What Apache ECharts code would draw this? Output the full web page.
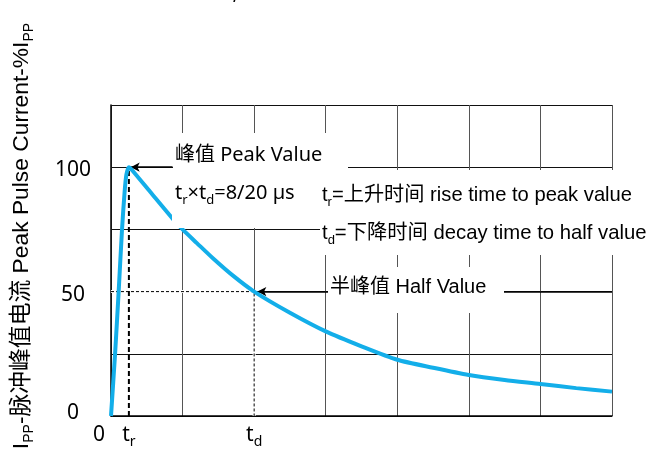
<!DOCTYPE html>
<html>
<head>
<meta charset="utf-8">
<script src="https://cdn.jsdelivr.net/npm/echarts@6/dist/echarts.min.js"></script>
<style>
  html, body { margin: 0; padding: 0; background: #fff; }
  #chart { width: 662px; height: 454px; }
</style>
</head>
<body>
<div id="chart"></div>
<script>
// 8/20 µs surge current waveform (time axis is schematic, one column = 10 units)
const timeUs = [0, 0.57, 1.07, 1.54, 1.9, 2.15, 2.5, 2.9, 5.5, 8.7, 10, 12, 14.2, 17, 20, 25, 30, 35, 40, 45, 50, 55, 60, 65, 70];
const currentPct = [0, 25, 50, 75, 90, 97, 100, 99, 90, 79, 75, 69.5, 63.5, 56.5, 50, 41.5, 34, 28, 22.6, 19.4, 16.5, 14.5, 12.9, 11.2, 9.8];

// characteristic points
const tr = 2.5;      // rise time to peak
const td = 20;       // decay time to half value
const peak = 100;
const half = 50;

// axis labels
const yTickLabels = [0, 50, 100];
const xLabelValues = [0, tr, td];
const xLabelTexts = ['0', 't|r', 't|d'];

const LATIN = "'Liberation Sans', 'Noto Sans CJK SC', sans-serif";
const FRUT = "'Noto Sans', 'Noto Sans CJK SC', sans-serif";

// rich styles for text with subscripts (zrender style names)
function richZr(family, size, subSize) {
  return {
    n: { fontFamily: family, fontSize: size, fill: '#000', verticalAlign: 'bottom', padding: [0, 0, 3, 0] },
    s: { fontFamily: family, fontSize: subSize, fill: '#000', verticalAlign: 'bottom' }
  };
}

const chart = echarts.init(document.getElementById('chart'), null, { renderer: 'canvas' });

const curve = timeUs.map((t, i) => [t, currentPct[i]]);

const option = {
  animation: false,
  backgroundColor: '#fff',
  grid: { left: 111, top: 105, right: 50, bottom: 38 },
  xAxis: {
    type: 'value',
    min: 0, max: 70, interval: 10,
    axisLine: { show: true, onZero: false, lineStyle: { color: '#000', width: 1.5 } },
    axisTick: { show: false },
    splitLine: { show: true, lineStyle: { color: '#555', width: 1 } },
    axisLabel: {
      show: true,
      customValues: xLabelValues,
      margin: 9,
      formatter: function (v) {
        const i = xLabelValues.indexOf(v);
        const s = xLabelTexts[i];
        if (s === '0') return '{z|0}';
        const parts = s.split('|');
        return '{n|' + parts[0] + '}{s|' + parts[1] + '}';
      },
      rich: {
        z: { fontFamily: FRUT, fontSize: 21, color: '#000', padding: [0, 24, 0, 0], verticalAlign: 'bottom' },
        n: { fontFamily: FRUT, fontSize: 21, color: '#000', verticalAlign: 'bottom', padding: [0, 0, 3, 0] },
        s: { fontFamily: FRUT, fontSize: 14, color: '#000', verticalAlign: 'bottom' }
      }
    }
  },
  yAxis: {
    type: 'value',
    min: 0, max: 125, interval: 25,
    axisLine: { show: true, lineStyle: { color: '#000', width: 1.5 } },
    axisTick: { show: false },
    splitLine: { show: true, lineStyle: { color: '#111', width: 1 } },
    axisLabel: {
      margin: 38,
      align: 'center',
      formatter: function (v) {
        if (!yTickLabels.includes(v)) return '';
        return v === 0 ? '{lo|' + v + '}' : '{hi|' + v + '}';
      },
      rich: {
        hi: { fontFamily: FRUT, fontSize: 21, color: '#000', padding: [6, 0, 0, 0] },
        lo: { fontFamily: FRUT, fontSize: 21, color: '#000', padding: [0, 0, 6, 0] }
      }
    }
  },
  series: [
    {
      name: 'halfCover',
      type: 'line',
      data: [[0, half], [td, half], [td, 0]],
      symbol: 'none',
      lineStyle: { color: '#fff', width: 3 },
      z: 3,
      silent: true
    },
    {
      name: 'halfGuide',
      type: 'line',
      data: [[0, half], [td, half], [td, 0]],
      symbol: 'none',
      lineStyle: { color: '#000', width: 1, type: [3, 2] },
      z: 3,
      silent: true,
      markLine: {
        silent: true,
        symbol: ['none', 'arrow'],
        symbolSize: [7, 9],
        label: { show: false },
        lineStyle: { color: '#000', width: 1.5, type: 'solid' },
        data: [
          [{ coord: [8.6, peak] }, { coord: [tr + 0.25, peak] }],
          [{ coord: [70, half] }, { coord: [td + 0.45, half] }]
        ]
      }
    },
    {
      name: 'riseGuide',
      type: 'line',
      data: [[tr, 0], [tr, peak]],
      symbol: 'none',
      lineStyle: { color: '#000', width: 2, type: [5, 3] },
      z: 3,
      silent: true
    },
    {
      name: 'current',
      type: 'line',
      data: curve,
      showSymbol: false,
      symbol: 'none',
      smooth: 0.25,
      lineStyle: { color: '#13aee9', width: 4 },
      z: 5
    }
  ],
  graphic: [
    // white panels behind the annotation texts
    { type: 'rect', z: 10, silent: true, shape: { x: 173, y: 133, width: 175, height: 44 }, style: { fill: '#fff' } },
    { type: 'rect', z: 10, silent: true, shape: { x: 172, y: 177, width: 128, height: 51 }, style: { fill: '#fff' } },
    { type: 'rect', z: 10, silent: true, shape: { x: 320, y: 170, width: 342, height: 85 }, style: { fill: '#fff' } },
    { type: 'rect', z: 10, silent: true, shape: { x: 328, y: 267, width: 176, height: 46 }, style: { fill: '#fff' } },

    {
      type: 'text', z: 11, x: 175, y: 157,
      style: { text: '{n|峰值 Peak Value}', rich: richZr(FRUT, 20, 13), verticalAlign: 'middle', align: 'left' }
    },
    {
      type: 'text', z: 11, x: 175, y: 195,
      style: { text: '{n|t}{s|r}{n|×t}{s|d}{n|=8/20 µs}', rich: richZr(FRUT, 20, 13), verticalAlign: 'middle', align: 'left' }
    },
    {
      type: 'text', z: 11, x: 322, y: 197,
      style: { text: '{n|t}{s|r}{n|=上升时间 rise time to peak value}', rich: richZr(LATIN, 20.2, 13), verticalAlign: 'middle', align: 'left' }
    },
    {
      type: 'text', z: 11, x: 322, y: 235,
      style: { text: '{n|t}{s|d}{n|=下降时间 decay time to half value}', rich: richZr(LATIN, 20.3, 13), verticalAlign: 'middle', align: 'left' }
    },
    {
      type: 'text', z: 11, x: 330, y: 289,
      style: { text: '{n|半峰值 Half Value}', rich: richZr(LATIN, 20, 13), verticalAlign: 'middle', align: 'left' }
    },
    // vertical axis title
    {
      type: 'text', z: 11, x: 23, y: 236, rotation: Math.PI / 2,
      style: {
        text: '{n|I}{s|PP}{n|-脉冲峰值电流 Peak Pulse Current-%I}{s|PP}',
        rich: richZr(LATIN, 22.8, 14),
        align: 'center', verticalAlign: 'middle'
      }
    },
    {
      type: 'text', z: 11, x: 236, y: 6,
      style: { text: '/', fontFamily: LATIN, fontSize: 20, fill: '#000', align: 'center', verticalAlign: 'bottom' }
    }
  ]
};

chart.setOption(option);
</script>
</body>
</html>
